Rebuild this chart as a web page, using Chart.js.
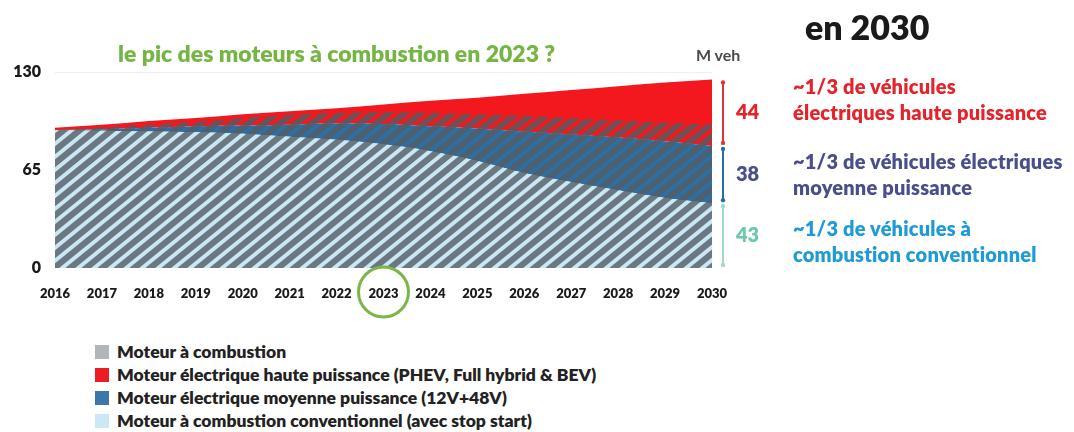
<!DOCTYPE html>
<html>
<head>
<meta charset="utf-8">
<script src="https://cdn.jsdelivr.net/npm/chart.js@4"></script>
<style>
  body { margin: 0; background: #fff; width: 1074px; height: 432px; overflow: hidden; position: relative; font-family: Lato, "Open Sans", sans-serif; }
  #chart { position: absolute; left: 0; top: 0; }
  .t { position: absolute; font-weight: 800; white-space: nowrap; }
  #title { left: 118px; top: 39px; font-size: 23px; color: #74b544; }
  #unit { left: 696px; top: 45px; font-size: 16px; color: #4a4a4a; font-weight: 700; }
  #en2030 { left: 805px; top: 6px; font-size: 34px; color: #1a1a1a; }
  .side { left: 793px; font-size: 20px; line-height: 26px; letter-spacing: 0.2px; }
  #s1 { top: 73px; color: #e3242b; }
  #s2 { top: 148px; color: #4a4e8c; }
  #s3 { top: 215px; color: #1e9ad6; }
  #legend { position: absolute; left: 95px; top: 341px; font-size: 17.5px; font-weight: 800; color: #222; }
  #legend div { height: 23px; line-height: 22px; white-space: nowrap; }
  #legend span { display: inline-block; width: 14px; height: 14px; margin-right: 8px; vertical-align: -1px; }
</style>
</head>
<body>
<canvas id="chart" width="1074" height="320"></canvas>
<div class="t" id="title">le pic des moteurs à combustion en 2023 ?</div>
<div class="t" id="unit">M veh</div>
<div class="t" id="en2030">en 2030</div>
<div class="t side" id="s1">~1/3 de véhicules<br>électriques haute puissance</div>
<div class="t side" id="s2">~1/3 de véhicules électriques<br>moyenne puissance</div>
<div class="t side" id="s3">~1/3 de véhicules à<br>combustion conventionnel</div>
<div id="legend">
  <div><span style="background:#b3b6b9"></span>Moteur à combustion</div>
  <div><span style="background:#ec1c24"></span>Moteur électrique haute puissance (PHEV, Full hybrid &amp; BEV)</div>
  <div><span style="background:#3a77ab"></span>Moteur électrique moyenne puissance (12V+48V)</div>
  <div><span style="background:#cde8f5"></span>Moteur à combustion conventionnel (avec stop start)</div>
</div>
<script>
// millions de véhicules
var years = ["2016","2017","2018","2019","2020","2021","2022","2023","2024","2025","2026","2027","2028","2029","2030"];
var conventionnel = [91.5, 91, 90.5, 90, 89, 87, 85, 82, 77.5, 71, 63, 57, 51.5, 46.5, 43];
var moyenne = [0, 1, 2.5, 4, 5.5, 8, 11, 13.5, 16.5, 21.5, 27.5, 31.5, 35, 37.5, 38];
var haute = [1.5, 3, 4.5, 5.5, 7.5, 9, 10, 13, 17, 20.5, 25, 29.5, 34, 39, 44];
var combustion = [91.5, 93, 95, 97, 99.5, 101.5, 103, 103.5, 103, 102, 101, 99.5, 98, 96.5, 95];
var yTicks = [0, 65, 130];

function hatch() {
  var W = 16, H = 13;
  var c = document.createElement('canvas');
  c.width = W; c.height = H;
  var g = c.getContext('2d');
  g.strokeStyle = 'rgba(84,92,100,0.8)';
  g.lineWidth = 6.2;
  g.beginPath();
  for (var k = -1; k <= 1; k++) {
    g.moveTo(-W, 2 * H + k * H);
    g.lineTo(2 * W, -H + k * H);
  }
  g.stroke();
  return g.createPattern(c, 'repeat');
}

var extras = {
  id: 'extras',
  afterDraw: function(chart) {
    var ctx = chart.ctx, x = chart.scales.x, y = chart.scales.y;
    var last = years.length - 1;
    var c = conventionnel[last], m = moyenne[last], h = haute[last];
    var segs = [
      [c + m + h, c + m, '#d9363e', '#e3242b', h],
      [c + m, c, '#2b6ea0', '#4a4e8c', m],
      [c, 0, '#9edbcb', '#6cc7ad', c]
    ];
    var bx = x.getPixelForValue(last) + 11;
    ctx.save();
    segs.forEach(function(s) {
      var y1 = y.getPixelForValue(s[0]) + 3, y2 = y.getPixelForValue(s[1]) - 3;
      ctx.strokeStyle = s[2]; ctx.lineWidth = 2;
      ctx.beginPath(); ctx.moveTo(bx, y1); ctx.lineTo(bx, y2); ctx.stroke();
      ctx.fillStyle = s[2];
      [y1, y2].forEach(function(yy) { ctx.beginPath(); ctx.arc(bx, yy, 2.2, 0, Math.PI * 2); ctx.fill(); });
      ctx.fillStyle = s[3];
      ctx.font = '800 20px Lato, sans-serif';
      ctx.textBaseline = 'middle';
      ctx.fillText(Math.round(s[4]), bx + 13, (y1 + y2) / 2);
    });
    // cercle autour de 2023
    var cx = x.getPixelForValue(years.indexOf('2023'));
    ctx.strokeStyle = '#7ab648'; ctx.lineWidth = 3;
    ctx.beginPath(); ctx.arc(cx, 292, 25, 0, Math.PI * 2); ctx.stroke();
    ctx.restore();
  }
};

new Chart(document.getElementById('chart'), {
  type: 'line',
  data: {
    labels: years,
    datasets: [
      { label: 'Moteur à combustion conventionnel (avec stop start)', data: conventionnel, backgroundColor: '#c9e7f4', fill: 'origin', stack: 'total' },
      { label: 'Moteur électrique moyenne puissance (12V+48V)', data: moyenne, backgroundColor: '#2e6fa3', fill: '-1', stack: 'total' },
      { label: 'Moteur électrique haute puissance (PHEV, Full hybrid & BEV)', data: haute, backgroundColor: '#f3181d', fill: '-1', stack: 'total' },
      { label: 'Moteur à combustion', data: combustion, backgroundColor: hatch(), fill: 'origin', stack: 'hatch', order: -1 }
    ]
  },
  options: {
    responsive: false,
    animation: false,
    devicePixelRatio: 1,
    layout: { padding: { top: 72, right: 362, left: 0, bottom: 0 } },
    elements: {
      point: { radius: 0 },
      line: { borderWidth: 0, cubicInterpolationMode: 'monotone' }
    },
    plugins: { legend: { display: false }, tooltip: { enabled: false } },
    scales: {
      x: {
        offset: false,
        grid: { display: false },
        border: { display: false },
        ticks: { autoSkip: false, maxRotation: 0, padding: 10, color: '#1a1a1a', font: { family: 'Lato', weight: '800', size: 13 } },
        afterFit: function(s) { s.height = 52; }
      },
      y: {
        stacked: true,
        min: 0, max: 130,
        afterBuildTicks: function(s) { s.ticks = yTicks.map(function(v) { return { value: v }; }); },
        grid: { drawTicks: false, color: function(c) { return c.tick && c.tick.value === 130 ? '#eeeeee' : 'rgba(0,0,0,0)'; } },
        border: { display: false },
        ticks: { padding: 14, color: '#1a1a1a', font: { family: 'Lato', weight: '800', size: 16 } },
        afterFit: function(s) { s.width = 55; }
      }
    }
  },
  plugins: [extras]
});
</script>
</body>
</html>
